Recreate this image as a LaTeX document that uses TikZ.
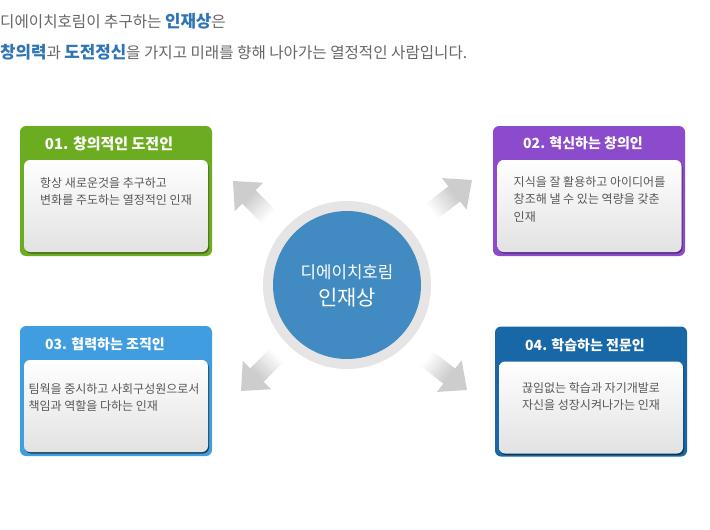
\documentclass[tikz,border=0pt]{standalone}
\usepackage{fontspec}
\setmainfont{Noto Sans CJK KR}
\definecolor{txtgray}{HTML}{666666}
\definecolor{notegray}{HTML}{585858}
\definecolor{titleblue}{HTML}{2E74B6}
\definecolor{cgreen}{HTML}{6CAC20}
\definecolor{cpurple}{HTML}{8C4ACC}
\definecolor{cblue}{HTML}{409EE0}
\definecolor{cnavy}{HTML}{1868A8}
\definecolor{coreblue}{HTML}{428BC2}
\definecolor{ringgray}{HTML}{E6E4E4}
\definecolor{panelgray}{HTML}{E2E2E2}
\definecolor{arrowgray}{HTML}{CDCDCD}
\begin{document}
\begin{tikzpicture}[x=1pt,y=-1pt]
		\tikzstyle{card}=[rounded corners=6pt,minimum width=192pt,minimum height=130pt,inner sep=0pt]
		\tikzstyle{panel}=[rounded corners=6pt,minimum width=184pt,minimum height=92pt,inner sep=0pt,top color=white,bottom color=panelgray]
		\tikzstyle{panelshadow}=[rounded corners=6pt,minimum width=184pt,minimum height=92pt,inner sep=0pt]
		\tikzstyle{cardhead}=[text=white,font=\fontsize{14}{16}\selectfont\bfseries,inner sep=0pt]
		\tikzstyle{cardnote}=[text=notegray,font=\fontsize{12}{17.5}\selectfont,align=left,inner sep=0pt,anchor=north]
		\tikzstyle{titleline}=[anchor=west,inner sep=0pt,text=txtgray,font=\fontsize{15.6}{18}\selectfont]

		\path[use as bounding box,fill=white] (0,0) rectangle (710,530);

		\node[titleline] (title1) at (0,21) {디에이치호림이 추구하는 {\color{titleblue}\bfseries\fontsize{16.8}{18}\selectfont 인재상}은};
		\node[titleline] (title2) at (0,52) {{\color{titleblue}\bfseries\fontsize{16.8}{18}\selectfont 창의력}과 {\color{titleblue}\bfseries\fontsize{16.8}{18}\selectfont 도전정신}을 가지고 미래를 향해 나아가는 열정적인 사람입니다.};

		\node[card,fill=cgreen] (b1) at (116,191) {};
		\node[panelshadow,fill=cgreen!60!black] (s1) at (117,207.5) {};
		\node[panel] (p1) at (116,206) {};
		\node[cardhead,font=\fontsize{15}{16}\selectfont\bfseries] (h1) at (109,144) {01. 창의적인 도전인};
		\node[cardnote] (t1) at (116,177) {항상 새로운것을 추구하고\\변화를 주도하는 열정적인 인재};

		\node[card,fill=cpurple] (b2) at (589,191) {};
		\node[panelshadow,fill=cpurple!60!black] (s2) at (590.5,207.5) {};
		\node[panel] (p2) at (589.5,206) {};
		\node[cardhead] (h2) at (583,143) {02. 혁신하는 창의인};
		\node[cardnote] (t2) at (589.5,176) {지식을 잘 활용하고 아이디어를\\창조해 낼 수 있는 역량을 갖춘\\인재};

		\node[card,fill=cblue] (b3) at (116,391) {};
		\node[panelshadow,fill=cblue!40!black] (s3) at (117,407.5) {};
		\node[panel] (p3) at (116,406) {};
		\node[cardhead] (h3) at (105,344) {03. 협력하는 조직인};
		\node[cardnote] (t3) at (114,383) {팀웍을 중시하고 사회구성원으로서\\책임과 역할을 다하는 인재};

		\node[card,fill=cnavy] (b4) at (591,391.5) {};
		\node[panelshadow,fill=cnavy!50!black] (s4) at (592,409) {};
		\node[panel] (p4) at (591,407.5) {};
		\node[cardhead] (h4) at (585,345) {04. 학습하는 전문인};
		\node[cardnote] (t4) at (591,382) {끊임없는 학습과 자기개발로\\자신을 성장시켜나가는 인재};

		\node[circle,fill=ringgray,minimum size=168pt,inner sep=0pt] (ring) at (347,285) {};
		\node[circle,fill=coreblue,minimum size=148pt,inner sep=0pt] (core) at (347,285) {};
		\node[text=white,font=\fontsize{16.8}{18}\selectfont,inner sep=0pt] (corename) at (347,272) {디에이치호림};
		\node[text=white,font=\fontsize{21}{22}\selectfont,inner sep=0pt] (coretitle) at (347,298) {인재상};

		% block arrows: shaft fades from the circle out to the head
		\foreach \tipx/\tipy/\ang in {233/181/135, 472/180/38, 241/391/225, 467/390/-38} {
		 \begin{scope}[shift={(\tipx,\tipy)},rotate=\ang]
		  \foreach \i in {0,...,13} {
		   \pgfmathsetmacro\pct{8+7*\i}
		   \fill[arrowgray!\pct!white] (-50+2*\i,-9.5) rectangle (-47.2+2*\i,9.5);
		  }
		  \fill[arrowgray] (0,0) -- (-22.5,-20) -- (-22.5,20) -- cycle;
		 \end{scope}
		}

\end{tikzpicture}
\end{document}
